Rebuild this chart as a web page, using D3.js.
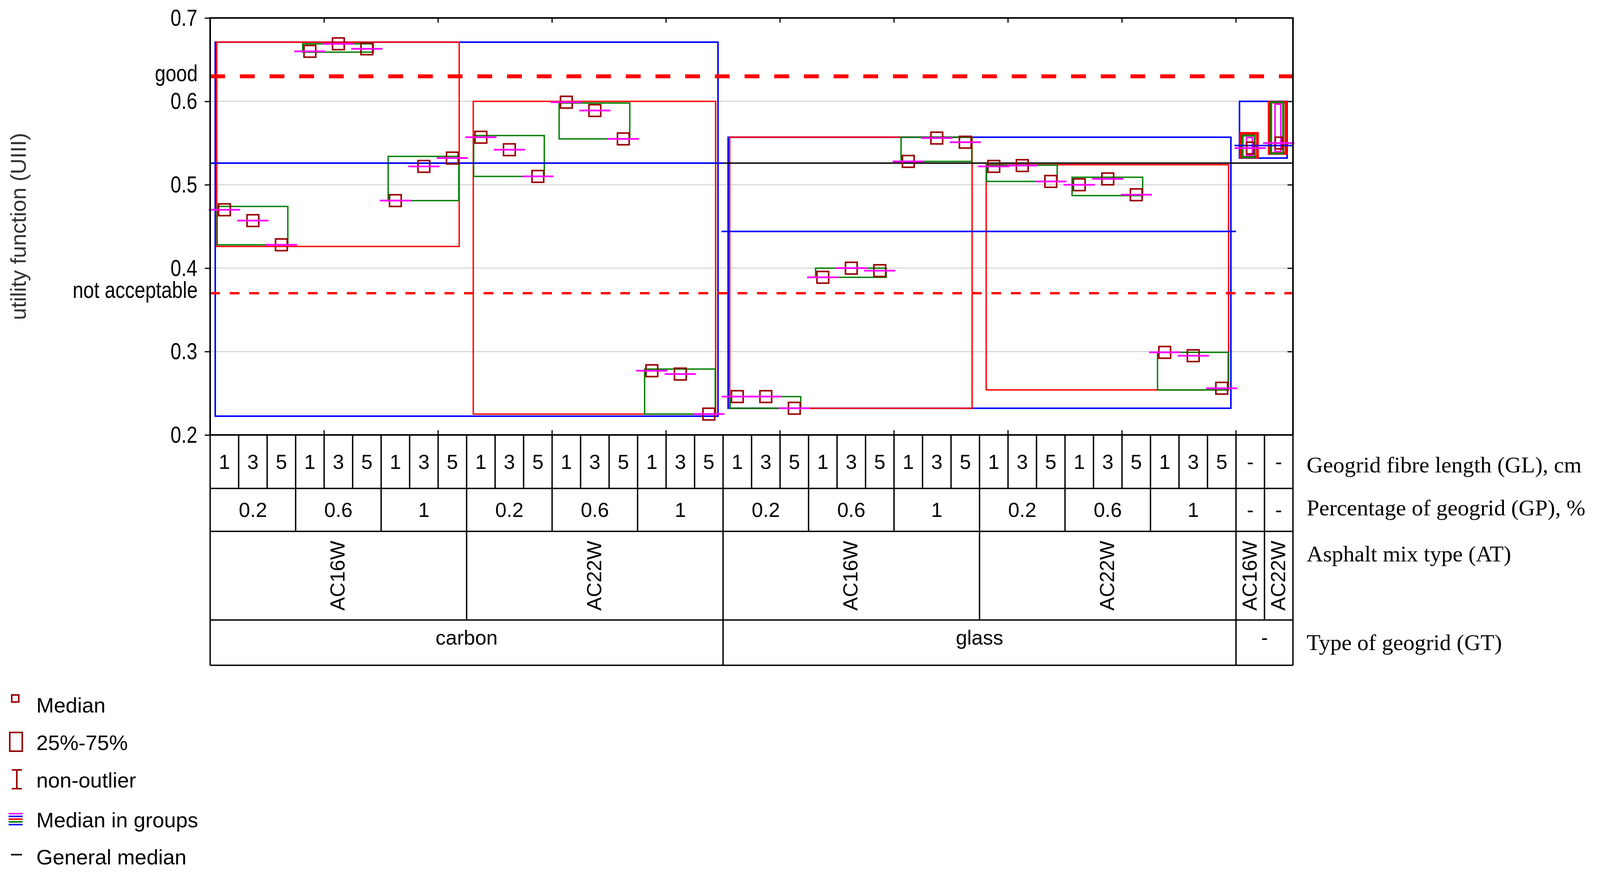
<!DOCTYPE html>
<html><head><meta charset="utf-8">
<script src="https://cdn.jsdelivr.net/npm/d3@7"></script>
<style>body{margin:0;background:#fff}</style></head>
<body><svg id="c" width="4108" height="2236"></svg>
<script>
// ---- data ----
const glLabels = ["1","3","5","1","3","5","1","3","5","1","3","5","1","3","5","1","3","5",
                  "1","3","5","1","3","5","1","3","5","1","3","5","1","3","5","1","3","5","-","-"];
const gpLabels = ["0.2","0.6","1","0.2","0.6","1","0.2","0.6","1","0.2","0.6","1","-","-"];
const atLabels = ["AC16W","AC22W","AC16W","AC22W","AC16W","AC22W"];
const gtLabels = ["carbon","glass","-"];
const yTicks = [0.2,0.3,0.4,0.5,0.6,0.7];
// column medians (38 columns)
const medians = [0.470,0.457,0.428, 0.660,0.669,0.663, 0.481,0.522,0.532,
                 0.557,0.542,0.510, 0.599,0.589,0.555, 0.277,0.273,0.225,
                 0.246,0.246,0.232, 0.389,0.400,0.397, 0.528,0.556,0.551,
                 0.522,0.523,0.504, 0.500,0.507,0.488, 0.299,0.295,0.256,
                 0.544,0.550];
// GP-level (green) boxes
const gpStart = [0,3,6,9,12,15,18,21,24,27,30,33,36,37];
const gpLo = [0.428,0.659,0.481,0.510,0.555,0.225,0.232,0.389,0.528,0.504,0.487,0.254,0.533,0.5375];
const gpHi = [0.474,0.669,0.534,0.559,0.598,0.279,0.246,0.400,0.557,0.5235,0.509,0.299,0.559,0.599];
// AT-level (red) boxes
const atStart = [0,9,18,27,36,37];
const atEnd   = [8,17,26,35,36,37];
const atLo = [0.426,0.225,0.232,0.254,0.533,0.5375];
const atHi = [0.671,0.600,0.557,0.524,0.5616,0.599];
// GT-level (blue) boxes and group medians
const gtStart = [0,18,36], gtEnd = [17,35,37];
const gtLo = [0.2225,0.232,0.532];
const gtHi = [0.671,0.557,0.600];
const gtMedian = [0.526,0.444,0.547];
const generalMedian = 0.526;
const goodLevel = 0.63, notAccLevel = 0.37;

// ---- drawing ----
const svg = d3.select("#c");
const L=538, R=3310, T=46, B=1114;
const x = d3.scaleBand().domain(d3.range(38)).range([L,R]);
const w = x.bandwidth();
const y = d3.scaleLinear().domain([0.2,0.7]).range([B,T]);
const sans = "'Liberation Sans',Arial,sans-serif";
const serif = "'Liberation Serif','DejaVu Serif',serif";
const SX = 0.82; // condensed look

svg.append("g").selectAll("line").data([0.3,0.4,0.5,0.6]).join("line")
  .attr("x1",L).attr("x2",R).attr("y1",d=>y(d)).attr("y2",d=>y(d))
  .attr("stroke","#d8d8d8").attr("stroke-width",3);

const ya = svg.append("g").attr("transform",`translate(${L},0)`)
  .call(d3.axisLeft(y).tickValues(yTicks).tickFormat(d3.format(".1f")).tickSize(14).tickSizeOuter(0));
ya.select(".domain").remove();
ya.selectAll("line").attr("stroke","#000").attr("stroke-width",3);
ya.selectAll("text").attr("font-family",sans).attr("font-size",60).attr("fill","#000")
  .attr("x",-33/SX).attr("transform",`scale(${SX},1)`);
const yr = svg.append("g").attr("transform",`translate(${R},0)`)
  .call(d3.axisLeft(y).tickValues(yTicks).tickFormat("").tickSize(14).tickSizeOuter(0));
yr.select(".domain").remove(); yr.selectAll("line").attr("stroke","#000").attr("stroke-width",3);
const tk = d3.range(1,10).map(i=>L+i*4*w);
svg.append("g").selectAll("line").data(tk).join("line").attr("x1",d=>d).attr("x2",d=>d)
  .attr("y1",T).attr("y2",T+12).attr("stroke","#000").attr("stroke-width",3);
svg.append("g").selectAll("line").data(tk).join("line").attr("x1",d=>d).attr("x2",d=>d)
  .attr("y1",B).attr("y2",B-12).attr("stroke","#000").attr("stroke-width",3);

[[goodLevel,"good"],[notAccLevel,"not acceptable"]].forEach(([v,t])=>
  svg.append("g").attr("transform",`translate(506,${y(v)}) scale(${SX},1)`).append("text")
    .attr("dy","0.2em").attr("text-anchor","end").attr("font-family",sans).attr("font-size",60).text(t));
svg.append("text").attr("transform",`translate(66,580) rotate(-90)`).attr("text-anchor","middle")
  .attr("font-family",sans).attr("font-size",56).attr("fill","#333").text("utility function (UIII)");

svg.append("g").selectAll("rect").data(gtStart).join("rect")
  .attr("x",(d,i)=>x(d)+(i==2?9:13)).attr("width",(d,i)=>x(gtEnd[i])+w-x(d)-(i==2?24:26))
  .attr("y",(d,i)=>y(gtHi[i])).attr("height",(d,i)=>y(gtLo[i])-y(gtHi[i]))
  .attr("fill","none").attr("stroke","#0000ff").attr("stroke-width",4);
svg.append("g").selectAll("rect").data(atStart).join("rect")
  .attr("x",(d,i)=>x(d)+(i>=4?12:17)).attr("width",(d,i)=>x(atEnd[i])+w-x(d)-(i>=4?30:36))
  .attr("y",(d,i)=>y(atHi[i])).attr("height",(d,i)=>y(atLo[i])-y(atHi[i]))
  .attr("fill","none").attr("stroke","#ff0000").attr("stroke-width",(d,i)=>i>=4?7:3.5);
svg.append("g").selectAll("rect").data(gpStart).join("rect")
  .attr("x",(d,i)=>x(d)+(i>=12?17:18)).attr("width",(d,i)=>i>=12?w-42:3*w-38)
  .attr("y",(d,i)=>y(gpHi[i])).attr("height",(d,i)=>y(gpLo[i])-y(gpHi[i]))
  .attr("fill","none").attr("stroke","#008000").attr("stroke-width",(d,i)=>i>=12?5:3.5);
svg.append("g").selectAll("rect").data([36,37]).join("rect")
  .attr("x",d=>x(d)+27).attr("width",w-58)
  .attr("y",(d,i)=>y(gpHi[12+i])+5).attr("height",(d,i)=>y(gpLo[12+i])-y(gpHi[12+i])-10)
  .attr("fill","none").attr("stroke","#ff00ff").attr("stroke-width",4);

svg.append("line").attr("x1",L).attr("x2",R).attr("y1",y(generalMedian)).attr("y2",y(generalMedian))
  .attr("stroke","#000").attr("stroke-width",3.5);
svg.append("g").selectAll("line").data(gtStart).join("line")
  .attr("x1",(d,i)=>x(d)-(i?4:0)).attr("x2",(d,i)=>i==2?R:x(gtEnd[i])+w)
  .attr("y1",(d,i)=>y(gtMedian[i])).attr("y2",(d,i)=>y(gtMedian[i]))
  .attr("stroke","#0000ff").attr("stroke-width",4);
svg.append("line").attr("x1",L).attr("x2",R).attr("y1",y(goodLevel)).attr("y2",y(goodLevel))
  .attr("stroke","#ff0000").attr("stroke-width",10).attr("stroke-dasharray","38 38");
svg.append("line").attr("x1",L).attr("x2",R).attr("y1",y(notAccLevel)).attr("y2",y(notAccLevel))
  .attr("stroke","#ff0000").attr("stroke-width",6).attr("stroke-dasharray","25 25");

const cols = d3.range(38);
svg.append("g").selectAll("rect").data(cols).join("rect")
  .attr("x",d=>x(d)+w/2-(d>=36?9:15)).attr("width",d=>d>=36?18:30)
  .attr("y",d=>y(medians[d])-15).attr("height",30)
  .attr("fill","none").attr("stroke","#990000").attr("stroke-width",4);
svg.append("g").selectAll("line").data(cols).join("line")
  .attr("x1",d=>x(d)+w/2-40).attr("x2",d=>x(d)+w/2+40)
  .attr("y1",d=>y(medians[d])).attr("y2",d=>y(medians[d]))
  .attr("stroke","#ff00ff").attr("stroke-width",4.5);

svg.append("rect").attr("x",L).attr("y",T).attr("width",R-L).attr("height",B-T)
  .attr("fill","none").attr("stroke","#000").attr("stroke-width",4);

// ---- table ----
const rows = [B,1251,1361,1588,1704];
const tg = svg.append("g");
tg.selectAll("line.h").data(rows).join("line").attr("x1",L).attr("x2",R)
  .attr("y1",d=>d).attr("y2",d=>d).attr("stroke","#000").attr("stroke-width",3.5);
function vlines(bounds,y0,y1){
  tg.append("g").selectAll("line").data(bounds).join("line")
    .attr("x1",d=>d).attr("x2",d=>d).attr("y1",y0).attr("y2",y1)
    .attr("stroke","#000").attr("stroke-width",3.5);
}
vlines(d3.range(39).map(i=>L+i*w), rows[0], rows[1]);
vlines([...gpStart.map(d=>x(d)),R], rows[1], rows[2]);
vlines([...atStart.map(d=>x(d)),R], rows[2], rows[3]);
vlines([...gtStart.map(d=>x(d)),R], rows[3], rows[4]);
tg.append("g").selectAll("text").data(glLabels).join("text")
  .attr("x",(d,i)=>x(i)+w/2).attr("y",(rows[0]+rows[1])/2).attr("dy","0.35em").attr("text-anchor","middle")
  .attr("font-family",sans).attr("font-size",52).text(d=>d);
tg.append("g").selectAll("text").data(gpLabels).join("text")
  .attr("x",(d,i)=>i>=12?x(gpStart[i])+w/2:x(gpStart[i])+1.5*w).attr("y",(rows[1]+rows[2])/2).attr("dy","0.35em")
  .attr("text-anchor","middle").attr("font-family",sans).attr("font-size",52).text(d=>d);
tg.append("g").selectAll("text").data(atLabels).join("text")
  .attr("transform",(d,i)=>`translate(${(x(atStart[i])+x(atEnd[i])+w)/2+16},${(rows[2]+rows[3])/2}) rotate(-90)`)
  .attr("text-anchor","middle").attr("font-family",sans).attr("font-size",52).text(d=>d);
tg.append("g").selectAll("text").data(gtLabels).join("text")
  .attr("x",(d,i)=>(x(gtStart[i])+x(gtEnd[i])+w)/2).attr("y",(rows[3]+rows[4])/2).attr("dy","0.1em")
  .attr("text-anchor","middle").attr("font-family",sans).attr("font-size",52).text(d=>d);
const rowNames = ["Geogrid fibre length (GL), cm","Percentage of geogrid (GP), %","Asphalt mix type (AT)","Type of geogrid (GT)"];
tg.append("g").selectAll("text").data(rowNames).join("text")
  .attr("x",3345).attr("y",(d,i)=>[1190,1300,1418,1645][i]).attr("dy","0.35em")
  .attr("font-family",serif).attr("font-size",58).text(d=>d);

// ---- legend ----
const legNames = ["Median","25%-75%","non-outlier","Median in groups","General median"];
const legY = [1806,1902,1998,2100,2195];
const lg = svg.append("g");
lg.selectAll("text").data(legNames).join("text").attr("x",93).attr("y",(d,i)=>legY[i]).attr("dy","0.35em")
  .attr("font-family",sans).attr("font-size",54).text(d=>d);
const dr="#990000";
lg.append("rect").attr("x",30).attr("y",legY[0]-26).attr("width",18).attr("height",18).attr("fill","none").attr("stroke",dr).attr("stroke-width",4);
lg.append("rect").attr("x",25).attr("y",legY[1]-26).attr("width",32).attr("height",48).attr("fill","none").attr("stroke",dr).attr("stroke-width",4);
lg.append("path").attr("d",`M30,${legY[2]-26}H56M43,${legY[2]-26}V${legY[2]+22}M30,${legY[2]+22}H56`).attr("fill","none").attr("stroke",dr).attr("stroke-width",4);
["#ff00ff","#0000ff","#ff0000","#008000","#0000ff"].forEach((c,k)=>
  lg.append("line").attr("x1",22).attr("x2",58).attr("y1",legY[3]-16+k*7).attr("y2",legY[3]-16+k*7).attr("stroke",c).attr("stroke-width",4));
lg.append("line").attr("x1",28).attr("x2",56).attr("y1",legY[4]-6).attr("y2",legY[4]-6).attr("stroke","#000").attr("stroke-width",4);
</script></body></html>
